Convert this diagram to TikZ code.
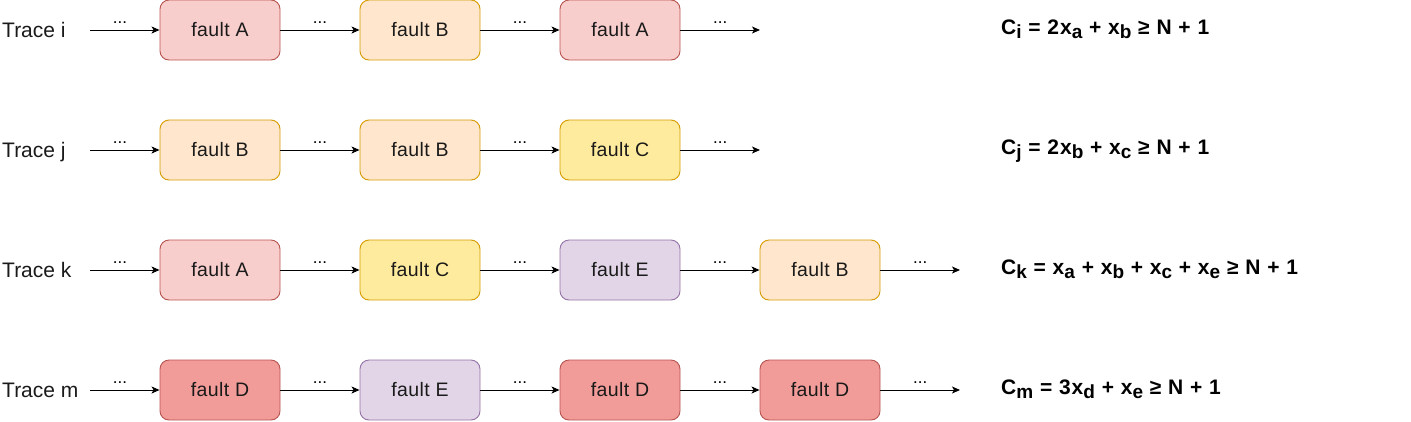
\documentclass[tikz,border=0pt]{standalone}
\usepackage{fontspec}
\setmainfont{Liberation Sans}
\newfontfamily\formfont[LetterSpace=4.5]{Liberation Sans}
\newfontfamily\boxfont[LetterSpace=2]{Liberation Sans}
\usetikzlibrary{arrows.meta}
\definecolor{redFill}{HTML}{F8CECC}
\definecolor{redLine}{HTML}{B85450}
\definecolor{orgFill}{HTML}{FFE6CC}
\definecolor{orgLine}{HTML}{D79B00}
\definecolor{ylwFill}{HTML}{FFEB9E}
\definecolor{ylwLine}{HTML}{D79B00}
\definecolor{purFill}{HTML}{E1D5E7}
\definecolor{purLine}{HTML}{9673A6}
\definecolor{dredFill}{HTML}{F19C99}
\definecolor{txt}{HTML}{1A1A1A}
\newcommand\subx[1]{\raisebox{-4.5pt}{\fontsize{19}{19}\selectfont #1}}
\begin{document}
\begin{tikzpicture}[x=1pt,y=-1pt,
  box/.style={draw, rounded corners=9pt, minimum width=120pt, minimum height=60pt,
    line width=0.9pt, font=\boxfont\fontsize{19.5}{19.5}\selectfont, text=txt,
    text height=13.5pt, text depth=0pt, inner sep=0pt},
  fa/.style={box, fill=redFill, draw=redLine},
  fb/.style={box, fill=orgFill, draw=orgLine},
  fc/.style={box, fill=ylwFill, draw=ylwLine},
  fe/.style={box, fill=purFill, draw=purLine},
  fd/.style={box, fill=dredFill, draw=redLine},
  arr/.style={-{Stealth[length=8pt,width=7pt,inset=2pt]}, line width=0.9pt},
  dots/.style={anchor=base, yshift=7pt, font=\fontsize{17}{17}\selectfont, inner sep=0pt},
  trace/.style={anchor=base west, font=\fontsize{21}{21}\selectfont, text=txt, inner sep=0pt},
  formula/.style={anchor=base west, font=\formfont\fontsize{21}{21}\selectfont\bfseries, inner sep=0pt}
]
\useasboundingbox (0,0) rectangle (1411,421);

% Row i
\node[trace] (ti) at (2,37) {Trace i};
\coordinate (si) at (90,30);
\node[fa] (i1) at (220,30) {fault A};
\node[fb] (i2) at (420,30) {fault B};
\node[fa] (i3) at (620,30) {fault A};
\coordinate (ei) at (760,30);
\draw[arr] (si) -- node[dots, pos=0.43]{...} (i1);
\draw[arr] (i1) -- node[dots]{...} (i2);
\draw[arr] (i2) -- node[dots]{...} (i3);
\draw[arr] (i3) -- node[dots]{...} (ei);
\node[formula] (fi) at (1001,34) {C\subx{i} = 2x\subx{a} + x\subx{b} ≥ N + 1};

% Row j
\node[trace] (tj) at (2,157) {Trace j};
\coordinate (sj) at (90,150);
\node[fb] (j1) at (220,150) {fault B};
\node[fb] (j2) at (420,150) {fault B};
\node[fc] (j3) at (620,150) {fault C};
\coordinate (ej) at (760,150);
\draw[arr] (sj) -- node[dots, pos=0.43]{...} (j1);
\draw[arr] (j1) -- node[dots]{...} (j2);
\draw[arr] (j2) -- node[dots]{...} (j3);
\draw[arr] (j3) -- node[dots]{...} (ej);
\node[formula] (fj) at (1001,154) {C\subx{j} = 2x\subx{b} + x\subx{c} ≥ N + 1};

% Row k
\node[trace] (tk) at (2,277) {Trace k};
\coordinate (sk) at (90,270);
\node[fa] (k1) at (220,270) {fault A};
\node[fc] (k2) at (420,270) {fault C};
\node[fe] (k3) at (620,270) {fault E};
\node[fb] (k4) at (820,270) {fault B};
\coordinate (ek) at (960,270);
\draw[arr] (sk) -- node[dots, pos=0.43]{...} (k1);
\draw[arr] (k1) -- node[dots]{...} (k2);
\draw[arr] (k2) -- node[dots]{...} (k3);
\draw[arr] (k3) -- node[dots]{...} (k4);
\draw[arr] (k4) -- node[dots]{...} (ek);
\node[formula] (fk) at (1001,274) {C\subx{k} = x\subx{a} + x\subx{b} + x\subx{c} + x\subx{e} ≥ N + 1};

% Row m
\node[trace] (tm) at (2,397) {Trace m};
\coordinate (sm) at (90,390);
\node[fd] (m1) at (220,390) {fault D};
\node[fe] (m2) at (420,390) {fault E};
\node[fd] (m3) at (620,390) {fault D};
\node[fd] (m4) at (820,390) {fault D};
\coordinate (em) at (960,390);
\draw[arr] (sm) -- node[dots, pos=0.43]{...} (m1);
\draw[arr] (m1) -- node[dots]{...} (m2);
\draw[arr] (m2) -- node[dots]{...} (m3);
\draw[arr] (m3) -- node[dots]{...} (m4);
\draw[arr] (m4) -- node[dots]{...} (em);
\node[formula] (fm) at (1001,394) {C\subx{m} = 3x\subx{d} + x\subx{e} ≥ N + 1};
\end{tikzpicture}
\end{document}
